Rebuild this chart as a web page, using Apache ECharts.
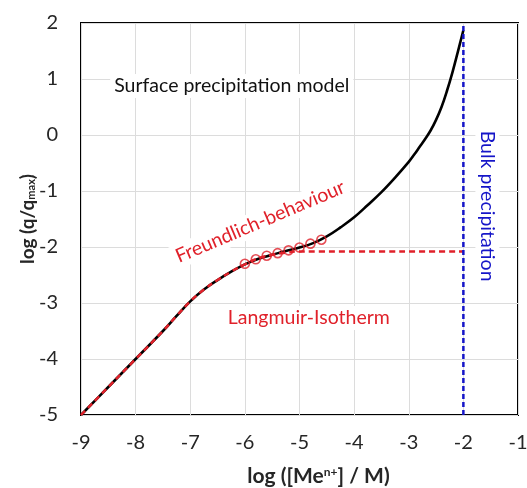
<!DOCTYPE html>
<html><head><meta charset="utf-8">
<script src="https://cdn.jsdelivr.net/npm/echarts@6/dist/echarts.min.js"></script>
<style>html,body{margin:0;padding:0;background:#fff}#c{width:527px;height:488px}</style>
</head><body><div id="c"></div>
<script>
// x-axis and y-axis ranges (tick labels)
const xTickRange = [-9, -1];
const yTickRange = [-5, 2];

// Surface precipitation model (black solid)
const surfaceX = [-9, -8.5, -8, -7.5, -7.25, -7.0, -6.75, -6.5, -6.25, -6.0, -5.75, -5.5, -5.25, -5.0, -4.75, -4.5, -4.25, -4.0, -3.75, -3.5, -3.25, -3.0, -2.9, -2.8, -2.7, -2.6, -2.5, -2.4, -2.3, -2.2, -2.1, -2.0];
const surfaceY = [-5, -4.5, -4.0, -3.5, -3.23, -2.97, -2.76, -2.59, -2.44, -2.31, -2.21, -2.14, -2.07, -2.01, -1.93, -1.81, -1.65, -1.47, -1.25, -1.02, -0.76, -0.48, -0.35, -0.21, -0.07, 0.08, 0.27, 0.50, 0.79, 1.12, 1.49, 1.87];

// Langmuir isotherm (red dashed)
const langmuirX = [-9, -8.5, -8, -7.5, -7.25, -7.0, -6.75, -6.5, -6.25, -6.0, -5.75, -5.5, -5.25, -5.0, -2];
const langmuirY = [-5, -4.5, -4.0, -3.5, -3.23, -2.97, -2.76, -2.59, -2.44, -2.31, -2.20, -2.14, -2.10, -2.08, -2.08];

// Freundlich behaviour (red open circles)
const freundlichX = [-6.0, -5.8, -5.6, -5.4, -5.2, -5.0, -4.8, -4.6];
const freundlichY = [-2.30, -2.22, -2.155, -2.11, -2.06, -2.01, -1.94, -1.87];

// Bulk precipitation (blue dashed vertical)
const bulkX = [-2, -2];
const bulkY = [-5, 2];

// Annotations [text, x, y]
const annotations = [
  ['Surface precipitation model', -6.24, 0.875],
  ['Freundlich-behaviour', -5.72, -1.55],
  ['Langmuir-Isotherm', -4.83, -3.27],
  ['Bulk precipitation', -1.56, -1.27]
];

const zip = (a, b) => a.map((v, i) => [v, b[i]]);
const RED = '#e0212a', BLUE = '#1515c8';
const FONT = 'Lato, "Open Sans", sans-serif';

const chart = echarts.init(document.getElementById('c'), null, {renderer: 'canvas'});
chart.setOption({
  animation: false,
  backgroundColor: '#fff',
  grid: {left: 81, right: 9, top: 23, bottom: 73, show: true, borderColor: '#000', borderWidth: 2,
    containLabel: false, outerBoundsMode: 'none'},
  xAxis: {
    type: 'value', min: xTickRange[0], max: xTickRange[1], interval: 1,
    axisLine: {show: false}, axisTick: {show: false},
    splitLine: {show: true, lineStyle: {color: '#dcdcdc', width: 1}},
    axisLabel: {fontSize: 20, color: '#262626', margin: 18, fontFamily: FONT},
    name: 'log ([Me{sup|n+}] / M)', nameLocation: 'middle', nameGap: 51,
    nameTextStyle: {fontSize: 21, fontWeight: 'bold', color: '#262626', fontFamily: FONT, padding: [0, 0, 0, 38],
      rich: {sup: {fontSize: 12, fontWeight: 'bold', verticalAlign: 'top', padding: [0, 0, 9, 0], color: '#262626', fontFamily: FONT}}}
  },
  yAxis: {
    type: 'value', min: yTickRange[0], max: yTickRange[1], interval: 1,
    axisLine: {show: false}, axisTick: {show: false},
    splitLine: {show: true, lineStyle: {color: '#dcdcdc', width: 1}},
    axisLabel: {fontSize: 20, color: '#262626', margin: 23, fontFamily: FONT},
    name: 'log (q/q{sub|max})', nameLocation: 'middle', nameGap: 44, nameMoveOverlap: false,
    nameTextStyle: {fontSize: 19, fontWeight: 'bold', color: '#262626', fontFamily: FONT,
      rich: {sub: {fontSize: 11, fontWeight: 'bold', verticalAlign: 'bottom', padding: [8, 0, 0, 0], color: '#262626', fontFamily: FONT}}}
  },
  series: [
    {type: 'line', data: zip(surfaceX, surfaceY), smooth: 0.4, showSymbol: false,
      lineStyle: {color: '#000', width: 2.6}, z: 2},
    {type: 'line', data: zip(langmuirX, langmuirY), smooth: 0.4, showSymbol: false,
      lineStyle: {color: RED, width: 2.5, type: [6, 4]}, z: 3},
    {type: 'scatter', data: zip(freundlichX, freundlichY), symbol: 'circle', symbolSize: 9,
      itemStyle: {color: 'rgba(255,255,255,0)', borderColor: RED, borderWidth: 1.6}, z: 4},
    {type: 'line', data: zip(bulkX, bulkY), showSymbol: false,
      lineStyle: {color: BLUE, width: 2.5, type: [5, 3]}, z: 5}
  ]
});

const styles = [
  {fill: '#111', rot: 0},
  {fill: RED, rot: 23 * Math.PI / 180},
  {fill: RED, rot: 0},
  {fill: BLUE, rot: -Math.PI / 2}
];
const graphics = annotations.map((a, i) => {
  const p = chart.convertToPixel({gridIndex: 0}, [a[1], a[2]]);
  return {
    type: 'text', x: p[0], y: p[1], rotation: styles[i].rot, z: 100,
    style: {text: a[0], fill: styles[i].fill, font: '19.5px ' + FONT, align: 'center', verticalAlign: 'middle',
      backgroundColor: '#fff', padding: [2, 4]}
  };
});
chart.setOption({graphic: graphics});
</script></body></html>
